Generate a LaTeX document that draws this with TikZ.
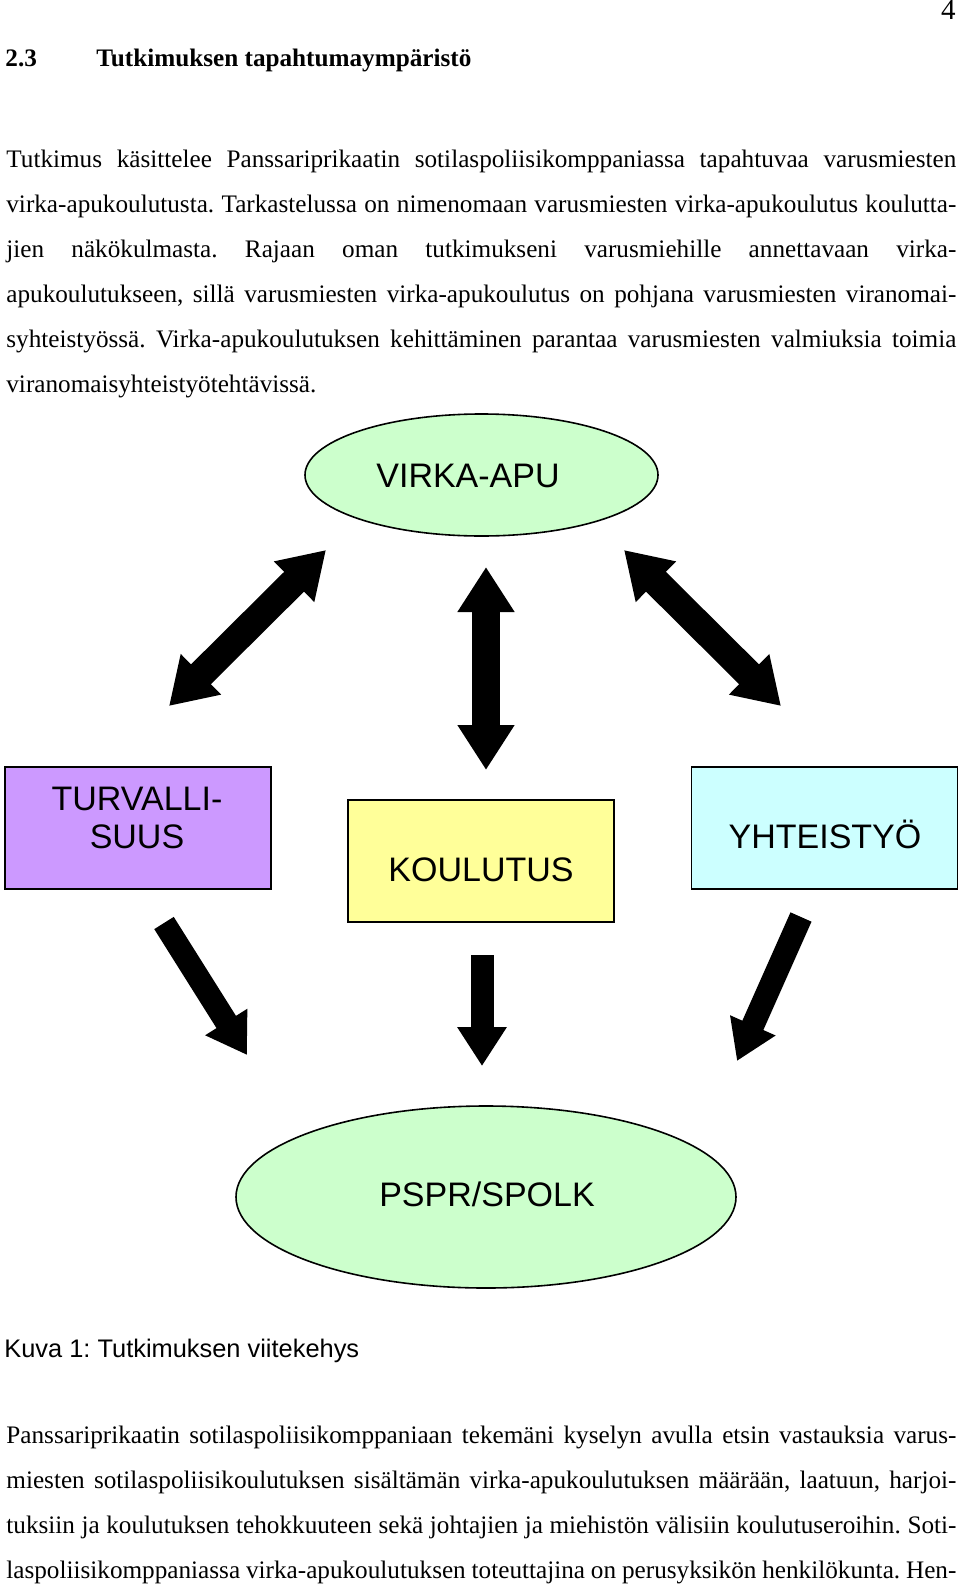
\documentclass[tikz,border=0pt]{standalone}
\usepackage{fontspec}
\setmainfont{Liberation Serif}
\newfontfamily\arialfont{Liberation Sans}
\usetikzlibrary{arrows.meta,shapes.geometric,positioning}
\frenchspacing

\definecolor{lilac}{RGB}{204,153,255}
\definecolor{paleyellow}{RGB}{255,255,153}
\definecolor{palecyan}{RGB}{204,255,255}
\definecolor{palegreen}{RGB}{204,255,204}

\newcommand{\bodyfont}{\fontsize{12.6}{14}\selectfont}
\newcommand{\jline}[1]{\makebox[475pt][s]{#1}}

\begin{document}
\begin{tikzpicture}[x=0.5pt,y=-0.5pt,inner sep=0pt,
  bodytext/.style={anchor=base west,font=\bodyfont},
  boxnode/.style={draw,line width=0.8pt,minimum width=133pt,minimum height=61pt},
  ovalnode/.style={ellipse,draw,line width=0.8pt,fill=palegreen},
  labeltext/.style={font=\arialfont\fontsize{17}{19}\selectfont,align=center},
  dblarrow/.style={line width=14pt,{Triangle[length=22.5pt,width=27pt]}-{Triangle[length=22.5pt,width=27pt]}},
  onearrow/.style={line width=11.5pt,-{Triangle[length=19.5pt,width=23.5pt]}}]
\useasboundingbox (0,0) rectangle (960,1584);

% page number and heading
\node[anchor=base east,font=\fontsize{14.5}{16}\selectfont] (pagenum) at (956,20) {4};
\node[bodytext,font=\bodyfont\bfseries] (secnum) at (5,67) {2.3};
\node[bodytext,font=\bodyfont\bfseries] (sectitle) at (96,67) {Tutkimuksen tapahtumaympäristö};

% first paragraph
\node[bodytext] (p1) at (6,168) {\jline{Tutkimus käsittelee Panssariprikaatin sotilaspoliisikomppaniassa tapahtuvaa varusmiesten}};
\node[bodytext] (p2) at (6,212.8) {\jline{virka-apukoulutusta. Tarkastelussa on nimenomaan varusmiesten virka-apukoulutus koulutta-}};
\node[bodytext] (p3) at (6,257.6) {\jline{jien näkökulmasta. Rajaan oman tutkimukseni varusmiehille annettavaan virka-}};
\node[bodytext] (p4) at (6,302.4) {\jline{apukoulutukseen, sillä varusmiesten virka-apukoulutus on pohjana varusmiesten viranomai-}};
\node[bodytext] (p5) at (6,347.2) {\jline{syhteistyössä. Virka-apukoulutuksen kehittäminen parantaa varusmiesten valmiuksia toimia}};
\node[bodytext] (p6) at (6,392) {viranomaisyhteistyötehtävissä.};

% figure
\node[ovalnode,minimum width=176.5pt,minimum height=61pt] (virka) at (481.5,475) {};
\node[labeltext,anchor=base] (virkatext) at (468,487) {VIRKA-APU};

\node[boxnode,fill=lilac] (turva) at (138,828) {};
\node[labeltext] (turvatext) at (137,818) {TURVALLI-\\SUUS};
\node[boxnode,fill=paleyellow] (koulu) at (481,861) {};
\node[labeltext,anchor=base] (koulutext) at (481,881) {KOULUTUS};
\node[boxnode,fill=palecyan] (yhteis) at (824.5,828) {};
\node[labeltext,anchor=base] (yhteistext) at (825,848) {YHTEISTYÖ};

\node[ovalnode,minimum width=250pt,minimum height=91pt] (pspr) at (486,1197) {};
\node[labeltext,anchor=base] (psprtext) at (487,1206) {PSPR/SPOLK};

\coordinate (ul1) at (169,706);
\coordinate (ul2) at (326,550);
\coordinate (uc1) at (486,567);
\coordinate (uc2) at (486,770);
\coordinate (ur1) at (624,550);
\coordinate (ur2) at (781,706);
\draw[dblarrow] (ul1) -- (ul2);
\draw[dblarrow] (uc1) -- (uc2);
\draw[dblarrow] (ur1) -- (ur2);

\coordinate (ll1) at (164,923);
\coordinate (ll2) at (247,1055);
\coordinate (lc1) at (482,955);
\coordinate (lc2) at (482,1066);
\coordinate (lr1) at (801,917);
\coordinate (lr2) at (737,1061);
\draw[onearrow] (ll1) -- (ll2);
\draw[onearrow] (lc1) -- (lc2);
\draw[onearrow] (lr1) -- (lr2);

\node[anchor=base west,font=\arialfont\fontsize{12.7}{15}\selectfont] (caption) at (4,1357) {Kuva 1: Tutkimuksen viitekehys};

% second paragraph
\node[bodytext] (q1) at (6,1443) {\jline{Panssariprikaatin sotilaspoliisikomppaniaan tekemäni kyselyn avulla etsin vastauksia varus-}};
\node[bodytext] (q2) at (6,1488) {\jline{miesten sotilaspoliisikoulutuksen sisältämän virka-apukoulutuksen määrään, laatuun, harjoi-}};
\node[bodytext] (q3) at (6,1533) {\jline{tuksiin ja koulutuksen tehokkuuteen sekä johtajien ja miehistön välisiin koulutuseroihin. Soti-}};
\node[bodytext] (q4) at (6,1578) {\jline{laspoliisikomppaniassa virka-apukoulutuksen toteuttajina on perusyksikön henkilökunta. Hen-}};
\end{tikzpicture}
\end{document}
